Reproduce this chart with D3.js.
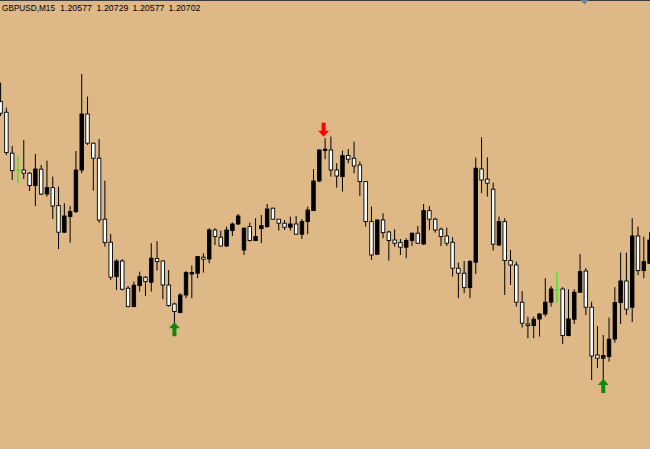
<!DOCTYPE html>
<html><head><meta charset="utf-8">
<script src="https://cdn.jsdelivr.net/npm/d3@7/dist/d3.min.js"></script>
<style>html,body{margin:0;padding:0;background:#DEB887;overflow:hidden}</style>
</head><body>
<script>
const symbol = "GBPUSD,M15";
const headerQuote = ["1.20577", "1.20729", "1.20577", "1.20702"];

const open = [
1.21392,1.21339,1.21134,1.21050,1.21050,1.21034,1.20972,1.21054,1.20930,1.20962,
1.20872,1.20739,1.20817,1.20842,1.21050,1.21330,1.21184,1.21109,1.20804,1.20689,
1.20517,1.20595,1.20459,1.20367,1.20472,1.20514,1.20489,1.20607,1.20595,1.20475,
1.20380,1.20337,1.20425,1.20530,1.20534,1.20614,1.20605,1.20750,1.20714,1.20670,
1.20747,1.20780,1.20650,1.20767,1.20697,1.20757,1.20767,1.20859,1.20804,1.20784,
1.20764,1.20780,1.20729,1.20792,1.20847,1.20995,1.21147,1.21150,1.21050,1.21017,
1.21122,1.21109,1.21075,1.20992,1.20792,1.20629,1.20800,1.20740,1.20700,1.20687,
1.20664,1.20697,1.20734,1.20680,1.20847,1.20804,1.20754,1.20720,1.20689,1.20559,
1.20534,1.20462,1.20589,1.21055,1.21004,1.20954,1.20675,1.20792,1.20597,1.20575,
1.20389,1.20280,1.20272,1.20305,1.20330,1.20389,1.20450,1.20455,1.20222,1.20304,
1.20439,1.20545,1.20364,1.20125,1.20109,1.20117,1.20205,1.20387,1.20495,1.20364,
1.20720,1.20547,1.20584];

const high = [
1.21487,1.21362,1.21170,1.21120,1.21200,1.21038,1.21130,1.21075,1.21097,1.21017,
1.20967,1.20884,1.20870,1.21145,1.21530,1.21417,1.21187,1.21205,1.20997,1.20730,
1.20604,1.20604,1.20470,1.20492,1.20542,1.20520,1.20684,1.20695,1.20598,1.20550,
1.20387,1.20434,1.20545,1.20572,1.20620,1.20634,1.20759,1.20759,1.20747,1.20767,
1.20787,1.20830,1.20763,1.20787,1.20809,1.20825,1.20880,1.20862,1.20805,1.20800,
1.20817,1.20820,1.20805,1.20867,1.21055,1.21153,1.21209,1.21217,1.21084,1.21147,
1.21155,1.21192,1.21092,1.20995,1.20867,1.20803,1.20834,1.20747,1.20754,1.20705,
1.20709,1.20737,1.20770,1.20880,1.20870,1.20812,1.20762,1.20762,1.20714,1.20587,
1.20595,1.20600,1.21112,1.21214,1.21114,1.20987,1.20817,1.20809,1.20650,1.20592,
1.20445,1.20317,1.20317,1.20334,1.20509,1.20470,1.20537,1.20464,1.20454,1.20454,
1.20630,1.20559,1.20392,1.20270,1.20225,1.20312,1.20464,1.20637,1.20637,1.20809,
1.20767,1.20717,1.20739];

const low = [
1.21320,1.21125,1.21000,1.20984,1.21005,1.20945,1.20870,1.20925,1.20917,1.20805,
1.20655,1.20735,1.20687,1.20835,1.21034,1.21175,1.20947,1.20787,1.20667,1.20500,
1.20450,1.20447,1.20364,1.20364,1.20442,1.20420,1.20442,1.20547,1.20404,1.20367,
1.20284,1.20334,1.20409,1.20409,1.20509,1.20537,1.20584,1.20675,1.20667,1.20665,
1.20720,1.20775,1.20625,1.20692,1.20695,1.20684,1.20762,1.20800,1.20747,1.20750,
1.20747,1.20725,1.20705,1.20729,1.20845,1.20989,1.21104,1.21017,1.20962,1.20942,
1.21084,1.21034,1.20920,1.20767,1.20600,1.20625,1.20709,1.20597,1.20667,1.20625,
1.20609,1.20670,1.20680,1.20675,1.20750,1.20737,1.20670,1.20670,1.20517,1.20409,
1.20434,1.20409,1.20530,1.20934,1.20917,1.20647,1.20670,1.20425,1.20475,1.20367,
1.20262,1.20209,1.20209,1.20217,1.20317,1.20367,1.20384,1.20180,1.20219,1.20280,
1.20435,1.20325,1.20000,1.20059,1.20000,1.20092,1.20187,1.20280,1.20325,1.20290,
1.20525,1.20509,1.20580];

const close = [
1.21334,1.21137,1.21047,1.21050,1.21034,1.20972,1.21055,1.20930,1.20962,1.20870,
1.20739,1.20820,1.20842,1.21050,1.21330,1.21184,1.21109,1.20800,1.20687,1.20514,
1.20595,1.20454,1.20367,1.20474,1.20517,1.20492,1.20609,1.20592,1.20475,1.20372,
1.20342,1.20425,1.20537,1.20537,1.20617,1.20604,1.20750,1.20717,1.20670,1.20750,
1.20780,1.20820,1.20759,1.20697,1.20717,1.20772,1.20855,1.20804,1.20784,1.20764,
1.20780,1.20729,1.20792,1.20850,1.20995,1.21150,1.21154,1.21050,1.21020,1.21122,
1.21104,1.21070,1.20992,1.20792,1.20625,1.20800,1.20737,1.20697,1.20684,1.20664,
1.20697,1.20734,1.20684,1.20847,1.20804,1.20750,1.20717,1.20684,1.20559,1.20534,
1.20462,1.20592,1.21059,1.21000,1.20984,1.20679,1.20792,1.20597,1.20575,1.20389,
1.20284,1.20272,1.20304,1.20330,1.20389,1.20455,1.20450,1.20222,1.20305,1.20439,
1.20542,1.20364,1.20120,1.20109,1.20122,1.20204,1.20387,1.20495,1.20354,1.20720,
1.20547,1.20592,1.20700];

const buySignals = [30, 104];
const sellSignals = [56];

const W = 650, H = 449;
const svg = d3.select("body").append("svg").attr("width", W).attr("height", H)
  .style("display","block");
svg.append("rect").attr("width", W).attr("height", H).attr("fill", "#DEB887");

const n = open.length;
const idx = d3.range(n);
const x = d3.scaleLinear().domain([0, 112]).range([0.6, 649.6]);
const y = d3.scaleLinear().domain([1.20000, 1.21900]).range([380, 0]);
const bw = 3.5;

const g = svg.append("g");
idx.forEach(i => {
  const cx = x(i);
  const o = open[i], c = close[i];
  const doji = o === c;
  const col = doji ? "#00FF00" : "#000";
  g.append("line").attr("x1", cx).attr("x2", cx)
    .attr("y1", y(high[i])).attr("y2", y(low[i]))
    .attr("stroke", col).attr("stroke-width", 1);
  if (doji) {
    g.append("line").attr("x1", cx - bw/2).attr("x2", cx + bw/2)
      .attr("y1", y(o)).attr("y2", y(o)).attr("stroke", col).attr("stroke-width", 1);
  } else {
    const top = y(Math.max(o, c)), bot = y(Math.min(o, c));
    const bull = c > o;
    g.append("rect").attr("x", cx - bw/2).attr("y", top)
      .attr("width", bw).attr("height", Math.max(1, bot - top))
      .attr("fill", bull ? "#000" : "#fff")
      .attr("stroke", "#000").attr("stroke-width", 0.9);
  }
});

const upPath = "M0,0 L5.5,6 L2,6 L2,14 L-2,14 L-2,6 L-5.5,6 Z";
buySignals.forEach(i => {
  svg.append("path").attr("d", upPath)
    .attr("transform", `translate(${x(i)},${y(low[i]) - 1})`)
    .attr("fill", "#0A8A0A");
});
sellSignals.forEach(i => {
  svg.append("path").attr("d", upPath)
    .attr("transform", `translate(${x(i) - 1.5},${y(high[i]) - 1.5}) scale(1,-1)`)
    .attr("fill", "#FF0000");
});

// top frame line and shift marker
svg.append("rect").attr("x", 0).attr("y", 0).attr("width", W).attr("height", 1).attr("fill", "#3c3c3c");
svg.append("path").attr("d", "M580.5,0 L588.5,0 L584.5,4.5 Z").attr("fill", "#6F8299");

// header text
const tf = "'Liberation Sans', Arial, sans-serif";
svg.append("text").attr("x", 2).attr("y", 11).attr("font-family", tf).attr("font-size", 9)
  .attr("textLength", 53).attr("lengthAdjust", "spacingAndGlyphs")
  .attr("fill", "#000").text(symbol);
const qx = [60, 96.5, 132.5, 168.5];
headerQuote.forEach((q, k) => {
  svg.append("text").attr("x", qx[k]).attr("y", 11).attr("font-family", tf).attr("font-size", 9)
    .attr("textLength", 32).attr("lengthAdjust", "spacingAndGlyphs")
    .attr("fill", "#000").text(q);
});
</script>
</body></html>
